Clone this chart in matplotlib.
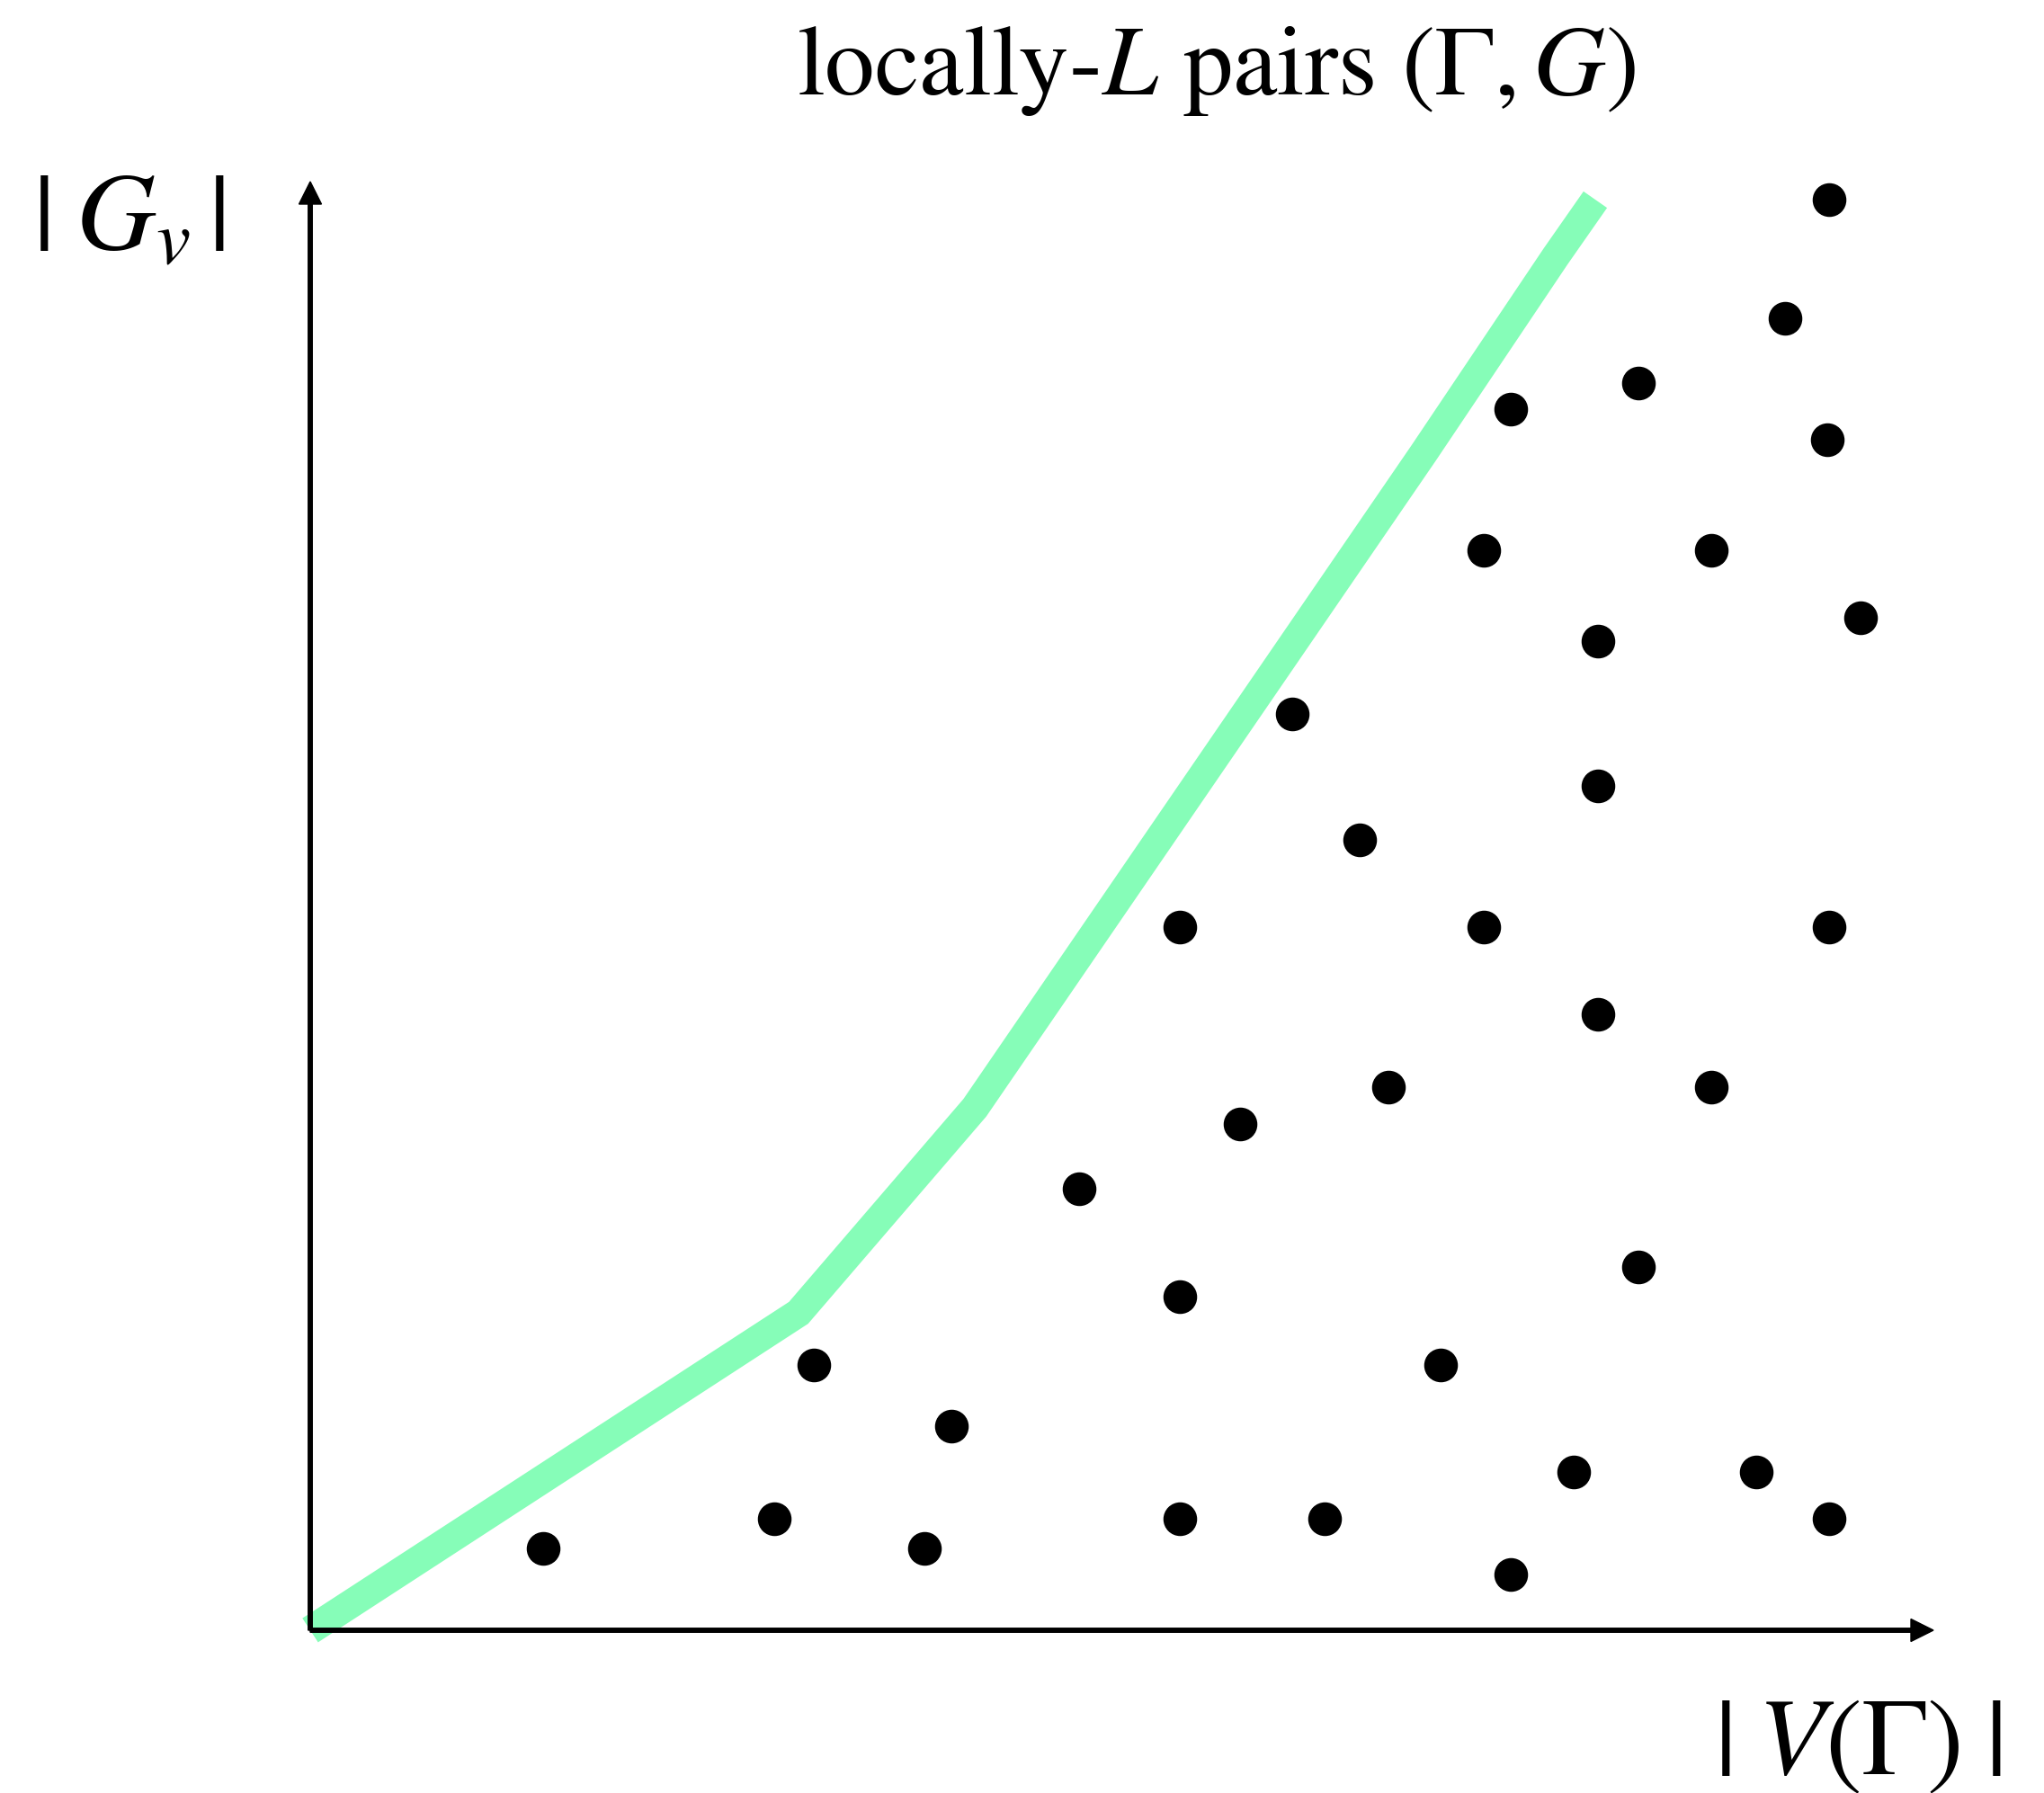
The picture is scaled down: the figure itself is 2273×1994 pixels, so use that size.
import matplotlib
matplotlib.use('Agg')
import matplotlib.pyplot as plt

plt.rcParams['font.family'] = 'STIXGeneral'
plt.rcParams['mathtext.fontset'] = 'stix'

# pairs (|V(Gamma)|, |G_v|), arbitrary units
pair_x = [16.89, 16.40, 14.77, 13.35, 16.87, 13.05, 15.58, 17.24, 14.32, 10.92,
          14.32, 11.67, 9.67, 13.05, 16.89, 14.32, 11.99, 15.58, 10.34, 8.55,
          14.77, 9.67, 12.57, 5.60, 7.13, 14.05, 16.08, 5.16, 9.67, 11.28,
          16.89, 2.59, 6.83, 13.35]
pair_y = [15.91, 14.59, 13.87, 13.58, 13.24, 12.01, 12.01, 11.26, 11.00, 10.19,
          9.39, 8.79, 7.82, 7.82, 7.82, 6.85, 6.04, 6.04, 5.63, 4.91,
          4.04, 3.71, 2.95, 2.95, 2.27, 1.76, 1.76, 1.24, 1.24, 1.24,
          1.24, 0.91, 0.91, 0.62]

# upper bound curve
bound_x = [0.0, 5.43, 7.39, 12.38, 13.85, 14.29]
bound_y = [0.0, 3.53, 5.81, 13.09, 15.28, 15.91]

x_end = 18.05
y_end = 16.11

fig = plt.figure(figsize=(22.73, 19.94), dpi=100)
ax = fig.add_axes([0, 0, 1, 1])
ax.set_xlim(-3.45, 19.28)
ax.set_ylim(-1.81, 18.13)
ax.axis('off')

ax.plot(bound_x, bound_y, color='#86fdb8', lw=23, solid_capstyle='butt',
        solid_joinstyle='miter', zorder=1)

ax.arrow(0, 0, x_end, 0, width=0.045, head_width=0.25, head_length=0.25,
         length_includes_head=True, color='k', zorder=3)
ax.arrow(0, 0, 0, y_end, width=0.045, head_width=0.25, head_length=0.25,
         length_includes_head=True, color='k', zorder=3)

ax.plot(pair_x, pair_y, 'o', color='k', markersize=26, zorder=4)

ax.text(10.07, 17.08, r'locally-$L$ pairs $(\Gamma, G)$', fontsize=80,
        ha='center', va='baseline')
ax.text(-2.02, 15.36, r'$|\;G_v\,|$', fontsize=88, ha='center', va='baseline')
ax.text(17.21, -1.60, r'$|\;V(\Gamma)\;|$', fontsize=88, ha='center', va='baseline')

fig.savefig('out.png', dpi=100)
